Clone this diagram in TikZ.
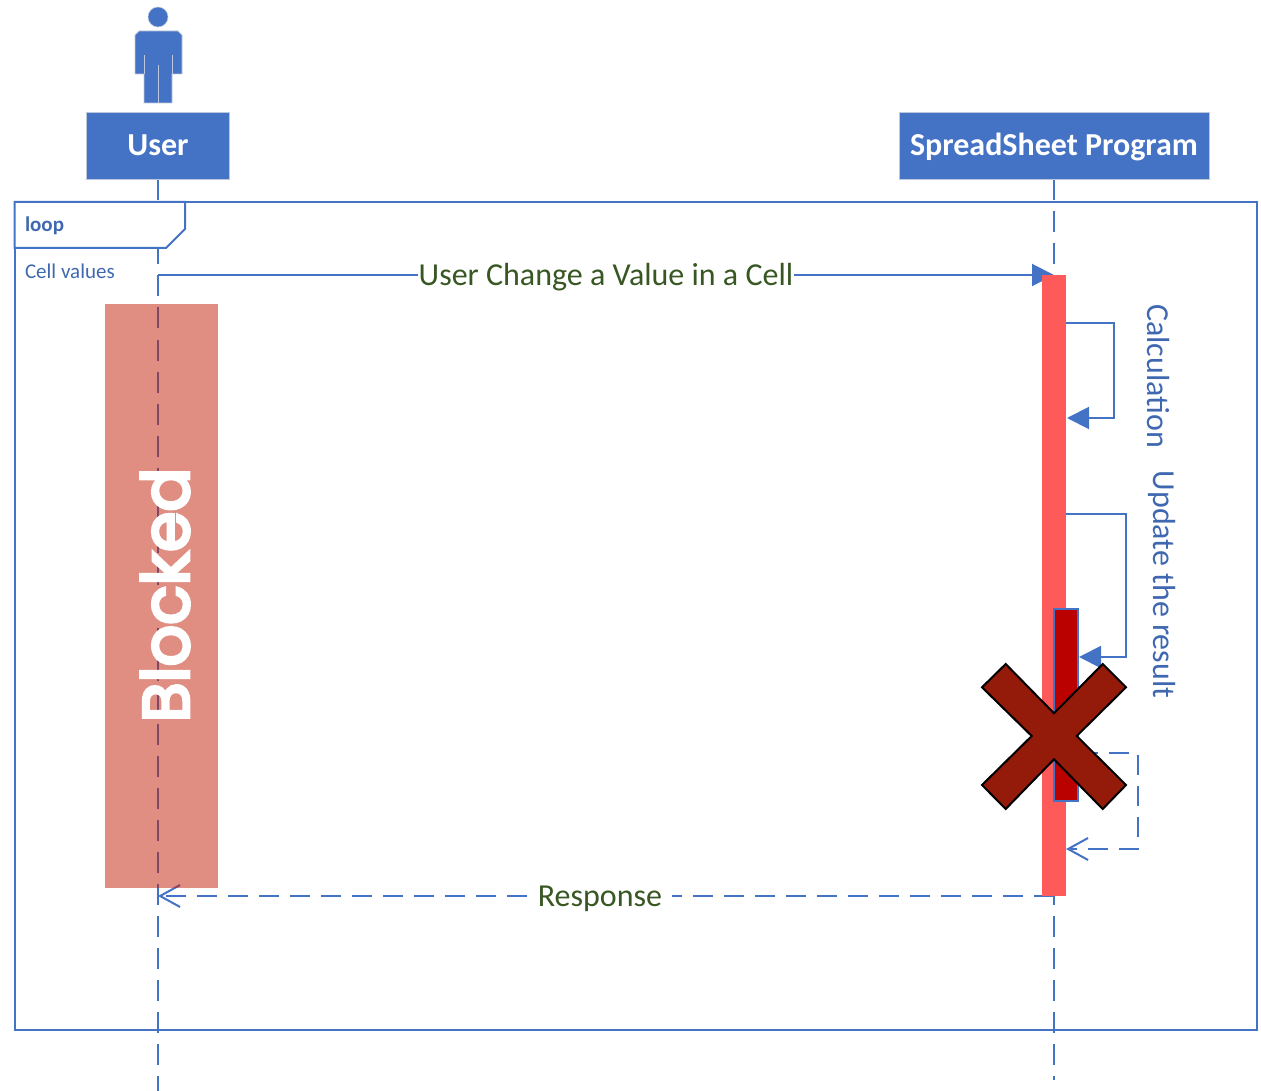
\documentclass[tikz,border=0pt]{standalone}
\usepackage{fontspec}
\setmainfont{Carlito}
\newfontfamily\blockedfont[FakeBold=5]{Poppins}
\usetikzlibrary{positioning,calc,arrows.meta}
\definecolor{myblue}{RGB}{68,114,196}
\definecolor{mytext}{RGB}{64,104,176}
\definecolor{mygreen}{RGB}{56,87,35}
\definecolor{myred}{RGB}{255,90,90}
\definecolor{mydarkred}{RGB}{187,0,0}
\definecolor{mycross}{RGB}{148,26,10}
\definecolor{myblocked}{RGB}{193,29,5}
\definecolor{myedge}{RGB}{190,200,220}
\pgfdeclarelayer{background}
\pgfsetlayers{background,main}

\begin{document}
\begin{tikzpicture}[x=1pt,y=-1pt,outer sep=0pt,
	actor/.style={
		draw=myedge,
		line width=1pt,
		fill=myblue,
		inner sep=0pt,
		font={\fontsize{32}{38}\selectfont\bfseries\color{white}},
		text height=23pt,
		text depth=4pt,
		align=center,
		minimum height=67pt},
	lifeline/.style={myblue,line width=2pt,dash pattern=on 21pt off 11pt},
	msg/.style={myblue,line width=2pt,-{Triangle[length=22pt,width=22pt]}},
	reply/.style={myblue,line width=2pt,dash pattern=on 20pt off 11pt,-{Straight Barb[length=20pt,width=22pt]}},
	msglabel/.style={fill=white,inner xsep=1pt,inner ysep=2pt,yshift=-2pt,text=mygreen,font={\fontsize{32}{38}\selectfont}},
	selflabel/.style={rotate=-90,text=mytext,font={\fontsize{32}{38}\selectfont}},
	framelabel/.style={text=mytext,anchor=west,inner sep=0pt,font={\fontsize{21}{25}\selectfont}},
	actbar/.style={fill=myred,inner sep=0pt,minimum width=24pt},
	]
	\useasboundingbox (0,0) rectangle (1261,1091);
	\node[actor,minimum width=143pt] (User) at (158,146) {User};
	\node[actor,minimum width=310pt] (SP) at (1054,146) {SpreadSheet Program};
	\coordinate (UserEnd) at (158,1091);
	\coordinate (SPEnd) at (1054,1080);
	\node[actbar,minimum height=621pt] (ACT) at (1054,585.5) {};
	\node[draw=myblue,fill=mydarkred,line width=2.5pt,inner sep=0pt,minimum width=24pt,minimum height=192pt] (INNER) at (1066,705) {};

	% person on top of the user box
	\node[circle,fill=myblue,draw=myedge,line width=.5pt,minimum size=20pt,inner sep=0pt] (Head) at (158,17) {};
	\draw[fill=myblue,draw=myedge,line width=.8pt] (139,31) -- (178,31) -- (182,35) -- (182,74) -- (172,74) -- (172,103) -- (144,103) -- (144,74) -- (135,74) -- (135,35) -- cycle;
	\draw[myedge,line width=.8pt] (158,65) -- (158,103) (144,55) -- (144,74) (172,55) -- (172,74);

	\begin{pgfonlayer}{background}
		\draw[lifeline] (User.south) -- (UserEnd);
		\draw[lifeline] (SP.south) -- (SPEnd);
		\draw[myblue,line width=2pt] (14.5,202) rectangle (1257,1030);
		\draw[myblue,line width=2pt,fill=white] (14.5,202) -- (185,202) -- (185,229) -- (166,248) -- (14.5,248) -- cycle;
		\draw[msg] (User.south |- ACT.north) -- (ACT.north) node[msglabel,pos=.5] (ML) {User Change a Value in a Cell};
		\draw[reply] (ACT.south) -- (User.south |- ACT.south) node[msglabel,pos=.5,xshift=-6pt,yshift=-1pt,inner xsep=10pt] (RL) {Response};
	\end{pgfonlayer}

	\node[framelabel,font={\fontsize{21}{25}\selectfont\bfseries}] (Loop) at (25,226) {loop};
	\node[framelabel] (Cell) at (25,271) {Cell values};

	\coordinate (CalcS) at (1066,323);
	\coordinate (CalcE) at (1067,418);
	\draw[msg] (CalcS) -- (1114,323) -- (1114,418) -- (CalcE);
	\node[selflabel] (Calc) at (1158,376) {Calculation};

	\coordinate (UpS) at (1066,514);
	\coordinate (UpE) at (1079,657);
	\draw[msg] (UpS) -- (1126,514) -- (1126,657) -- (UpE);
	\node[selflabel] (Up) at (1162,584.5) {Update the result};

	\coordinate (BackS) at (1078,753);
	\coordinate (BackE) at (1066,849);
	\draw[reply] (BackS) -- (1138,753) -- (1138,849) -- (BackE);

	% cross
	\draw[fill=mycross,draw=black,line width=2pt,line join=miter]
		(1005.7,664) -- (1054,713.3) -- (1102.7,664) -- (1126,687.3) -- (1076.7,736) -- (1126,785) -- (1102.7,809) -- (1054,759.3) -- (1005.7,809) -- (982,785) -- (1031.7,736) -- (982,687.3) -- cycle;

	% blocked region
	\fill[myblocked,opacity=.5] (105,304) rectangle (218,888);
	\node[rotate=90,text=white,inner sep=0pt,font={\blockedfont\fontsize{65}{70}\selectfont}] (Blocked) at (165,595) {Blocked};
\end{tikzpicture}
\end{document}
